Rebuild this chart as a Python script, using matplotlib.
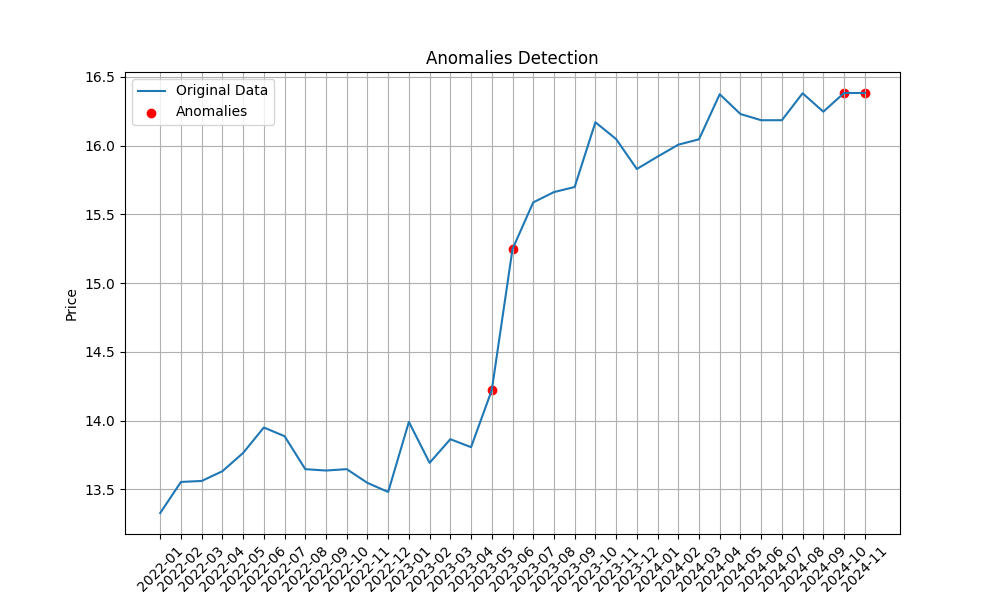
import matplotlib
matplotlib.use("Agg")
import matplotlib.pyplot as plt

# Monthly data
months = ["2022-01", "2022-02", "2022-03", "2022-04", "2022-05", "2022-06",
          "2022-07", "2022-08", "2022-09", "2022-10", "2022-11", "2022-12",
          "2023-01", "2023-02", "2023-03", "2023-04", "2023-05", "2023-06",
          "2023-07", "2023-08", "2023-09", "2023-10", "2023-11", "2023-12",
          "2024-01", "2024-02", "2024-03", "2024-04", "2024-05", "2024-06",
          "2024-07", "2024-08", "2024-09", "2024-10", "2024-11"]
price = [13.327, 13.553, 13.560, 13.631, 13.764, 13.949,
         13.886, 13.646, 13.636, 13.646, 13.546, 13.480,
         13.990, 13.692, 13.864, 13.806, 14.221, 15.247,
         15.587, 15.662, 15.699, 16.170, 16.048, 15.830,
         15.920, 16.007, 16.046, 16.374, 16.230, 16.185,
         16.185, 16.381, 16.247, 16.383, 16.383]

anomaly_months = ["2023-05", "2023-06", "2024-10", "2024-11"]
anomaly_price = [14.221, 15.247, 16.383, 16.383]

plt.figure(figsize=(10, 6))
plt.plot(months, price, label='Original Data')
plt.scatter(anomaly_months, anomaly_price, color='red', label='Anomalies')
plt.title('Anomalies Detection')
plt.ylabel('Price')
plt.xticks(rotation=45)
plt.grid(True)
plt.legend(loc='upper left')
plt.savefig('out.png')
